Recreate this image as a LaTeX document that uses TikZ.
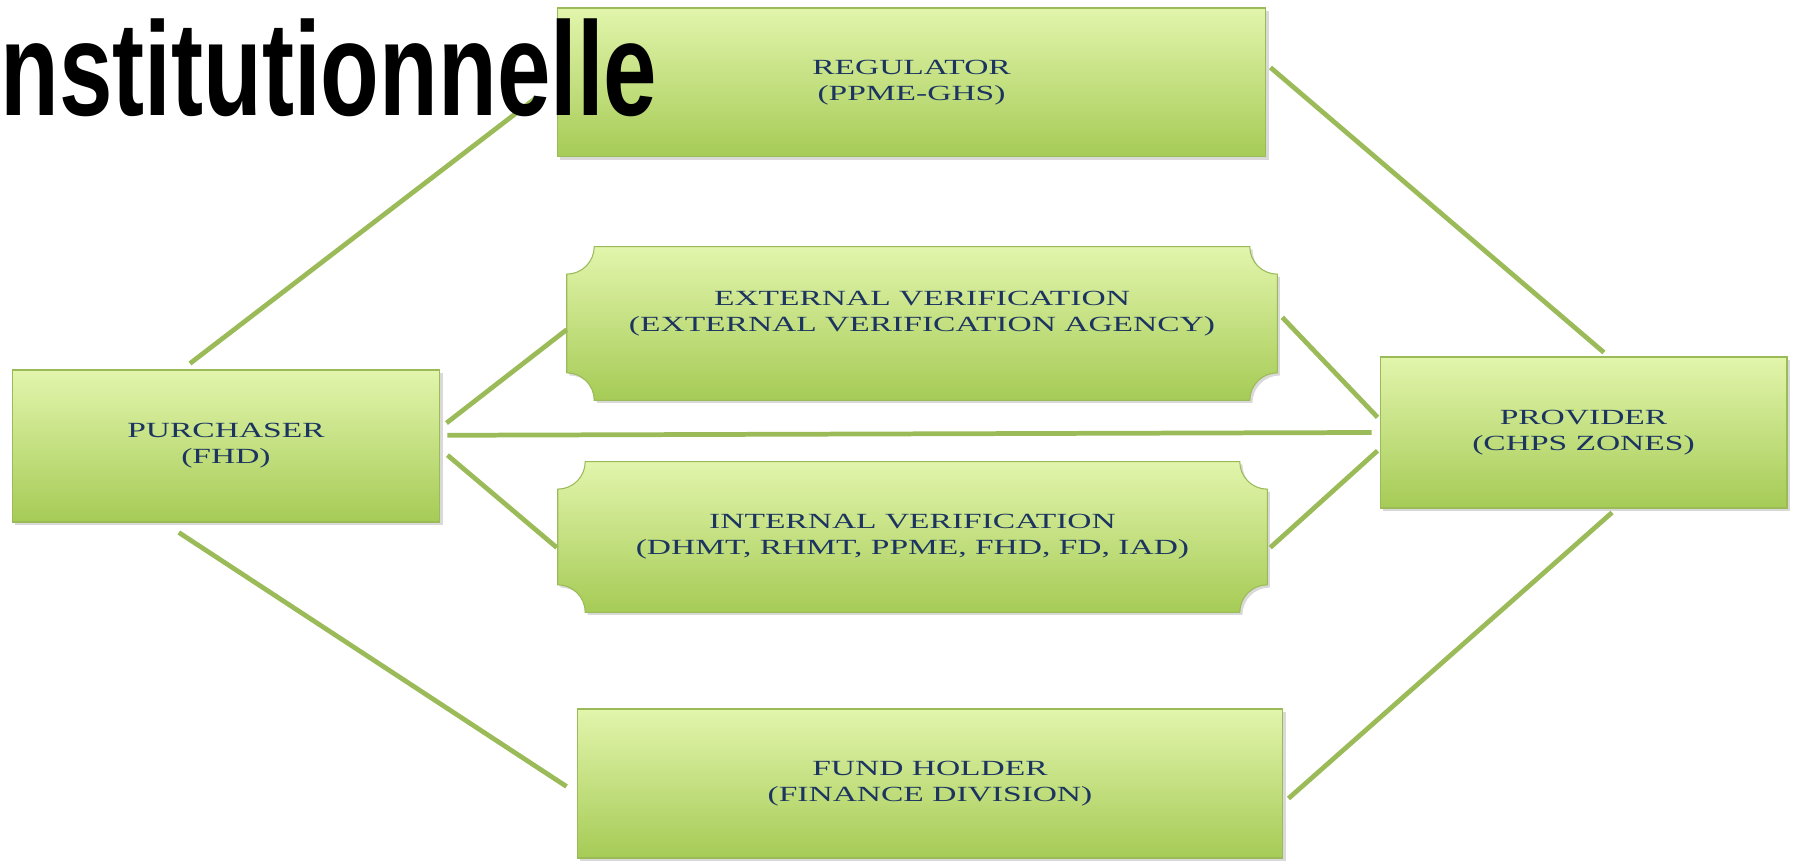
\documentclass[tikz,border=0pt]{standalone}
\usepackage{fontspec}
\usetikzlibrary{calc,shadows,backgrounds}

\newfontfamily\boxfont[FakeStretch=1.55]{Liberation Serif}
\newfontfamily\titlefont[FakeStretch=0.72]{Liberation Sans}

\definecolor{boxtop}{RGB}{226,245,172}
\definecolor{boxbot}{RGB}{166,203,86}
\definecolor{boxline}{RGB}{155,187,89}
\definecolor{linkgreen}{RGB}{155,187,89}
\definecolor{navy}{RGB}{28,52,96}

\tikzset{
  box/.style={top color=boxtop, bottom color=boxbot, draw=boxline, line width=0.6pt,
    drop shadow={opacity=0.3, shadow xshift=1.5pt, shadow yshift=-1.5pt}},
  boxtext/.style={rectangle, inner sep=0pt, text=navy, align=center,
    font=\boxfont\fontsize{12.3}{14.8}\selectfont},
  rectbox/.style={box, boxtext},
  link/.style={draw=linkgreen, line width=2.7pt}
}

% concave corners
\def\pr{0.55cm}
\newcommand{\plaque}[1]{%
  \path[box] ([yshift=-\pr]#1.north west) arc[start angle=-90, end angle=0, radius=\pr]
    -- ([xshift=-\pr]#1.north east) arc[start angle=180, end angle=270, radius=\pr]
    -- ([yshift=\pr]#1.south east) arc[start angle=90, end angle=180, radius=\pr]
    -- ([xshift=\pr]#1.south west) arc[start angle=0, end angle=90, radius=\pr]
    -- cycle;}

\begin{document}
\begin{tikzpicture}[x=0.02cm, y=0.02cm]
\useasboundingbox (0,0) rectangle (1794,864);

\node[rectbox, minimum width=14.18cm, minimum height=2.98cm] (reg) at (911.5,781.5) {REGULATOR\\(PPME-GHS)};
\node[boxtext, minimum width=14.2cm, minimum height=3.06cm] (ext) at (922,540.5) {\raisebox{6pt}[\height][\depth]{\begin{tabular}{@{}c@{}}EXTERNAL VERIFICATION\\(EXTERNAL VERIFICATION AGENCY)\end{tabular}}};
\node[boxtext, minimum width=14.18cm, minimum height=3.0cm] (int) at (912.5,327) {INTERNAL VERIFICATION\\(DHMT, RHMT, PPME, FHD, FD, IAD)};
\node[rectbox, minimum width=8.56cm, minimum height=3.04cm] (pur) at (226,418) {PURCHASER\\(FHD)};
\node[rectbox, minimum width=8.14cm, minimum height=3.02cm] (prov) at (1583.5,431.5) {PROVIDER\\(CHPS ZONES)};
\node[rectbox, minimum width=14.12cm, minimum height=2.98cm] (fund) at (930,80.5) {FUND HOLDER\\(FINANCE DIVISION)};

\begin{scope}[on background layer]
  \plaque{ext}
  \plaque{int}
\end{scope}

% links
\draw[link] ($(pur.north west)!0.416!(pur.north east)+(0,6)$) -- ($(reg.north west)!0.6!(reg.south west)+(-20,0)$);
\draw[link] ($(pur.north east)!0.35!(pur.south east)+(6,0)$) -- ($(ext.north west)!0.54!(ext.south west)$);
\draw[link] ($(pur.north east)!0.43!(pur.south east)+(7,0)$) -- ($(prov.north west)!0.5!(prov.south west)+(-8,0)$);
\draw[link] ($(pur.north east)!0.56!(pur.south east)+(7,0)$) -- ($(int.north west)!0.57!(int.south west)+(-1,0)$);
\draw[link] ($(pur.south west)!0.39!(pur.south east)+(0,-10)$) -- ($(fund.north west)!0.52!(fund.south west)+(-10,0)$);
\draw[link] ($(reg.north east)!0.4!(reg.south east)+(4,0)$) -- ($(prov.north west)!0.55!(prov.north east)+(0,4)$);
\draw[link] ($(ext.north east)!0.46!(ext.south east)+(5,0)$) -- ($(prov.north west)!0.4!(prov.south west)+(-2,0)$);
\draw[link] ($(int.north east)!0.57!(int.south east)+(3,0)$) -- ($(prov.north west)!0.62!(prov.south west)+(-2,0)$);
\draw[link] ($(fund.north east)!0.6!(fund.south east)+(5,0)$) -- ($(prov.south west)!0.57!(prov.south east)+(0,-4)$);

\node[anchor=base west, inner sep=0pt, font=\titlefont\bfseries\fontsize{76}{76}\selectfont] (title) at (0,748) {nstitutionnelle};

\end{tikzpicture}
\end{document}
